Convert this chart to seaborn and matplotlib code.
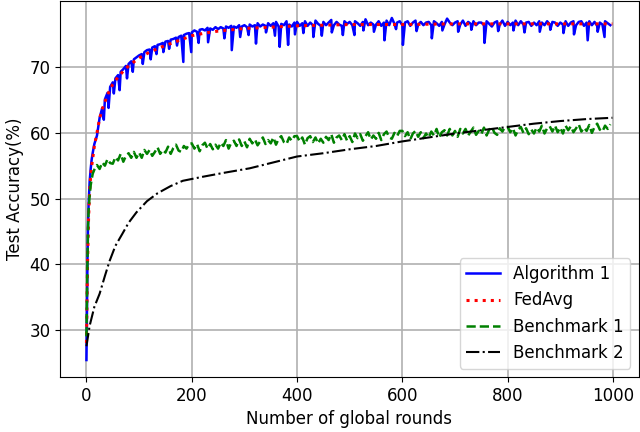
import matplotlib
matplotlib.use("Agg")
import matplotlib.pyplot as plt
import seaborn as sns

# rounds used for the noisy curves (dense at the start, then every 5 rounds)
rounds = [0, 1, 2, 3, 4, 6, 8, 10, 12, 15] + list(range(20, 1000, 5))

# Algorithm 1 (blue) on the regular rounds
algo1 = [25.4, 33.0, 41.0, 46.0, 49.0, 52.5, 54.5, 56.0, 57.0, 58.3,
         59.6, 62.3, 63.8, 65.1, 66.1, 67.0,
         67.7, 68.3, 68.8, 69.3, 69.7, 70.2, 70.5, 70.9, 71.2, 71.5,
         71.8, 72.0, 72.3, 72.6, 72.7, 73.0, 73.2, 73.4, 73.5, 73.7,
         73.9, 74.0, 74.2, 74.3, 74.5, 74.6, 74.8, 74.9, 75.1, 75.2,
         75.3, 75.6, 75.4, 75.7, 75.8, 75.6, 76.0, 75.9, 75.7, 76.1,
         75.8, 76.1, 75.9, 76.2, 76.0, 76.3, 76.2, 76.0, 76.4, 76.2,
         76.4, 76.1, 76.5, 76.2, 76.4, 76.7, 76.2, 76.5, 76.3, 76.7,
         76.3, 76.7, 76.9, 76.2, 76.6, 76.4, 77.0, 76.5, 76.2, 76.8,
         76.9, 76.3, 76.7, 77.0, 76.3, 76.8, 76.4, 77.1, 76.6, 76.3,
         76.9, 76.4, 76.8, 77.2, 76.4, 76.9, 76.5, 76.3, 77.0, 76.6,
         76.9, 76.4, 77.0, 76.7, 76.3, 76.9, 77.3, 76.4, 76.8, 76.5,
         76.5, 77.0, 76.3, 76.8, 77.1, 76.4, 77.5, 76.6, 76.8, 77.0,
         76.4, 76.8, 77.0, 76.3, 76.8, 77.1, 76.5, 76.9, 76.4, 76.8,
         76.9, 76.4, 77.0, 76.7, 76.3, 76.9, 76.5, 77.4, 76.8, 76.4,
         76.8, 77.0, 76.5, 77.1, 76.3, 76.9, 76.6, 77.0, 76.4, 76.8,
         76.8, 76.4, 77.0, 76.6, 76.2, 76.8, 77.0, 76.5, 77.1, 76.3,
         76.9, 76.4, 76.8, 77.1, 76.4, 77.0, 76.5, 76.8, 76.9, 76.3,
         76.8, 76.4, 77.0, 76.8, 76.4, 77.0, 76.5, 76.9, 76.8, 76.3,
         76.8, 76.5, 77.0, 76.3, 76.8, 77.0, 76.4, 76.9, 77.0, 76.3,
         76.8, 77.0, 76.4, 76.9, 76.3, 76.8, 76.5, 77.0, 76.7, 76.4]

# Algorithm 1 downward spikes (single rounds)
algo1_dip_rounds = [33, 42, 52, 63, 77, 88, 107, 122, 133, 146, 157, 172, 184,
                    199, 213, 231, 262, 276, 292, 308, 322, 341, 358, 367, 383,
                    396, 412, 431, 447, 466, 487, 509, 526, 546, 566, 588, 601,
                    627, 656, 676, 706, 731, 756, 782, 811, 832, 861, 881, 906,
                    926, 952, 971, 984]
algo1_dips = [62.0, 63.8, 66.0, 66.5, 68.3, 69.3, 70.5, 71.2, 72.0, 72.3, 72.8,
              73.3, 70.8, 72.3, 73.7, 73.8, 74.4, 72.6, 74.6, 74.9, 73.6, 75.3,
              74.8, 73.1, 73.4, 75.0, 75.2, 74.6, 74.8, 75.3, 74.9, 74.9, 75.6,
              75.4, 74.1, 75.8, 73.4, 75.5, 74.4, 75.6, 75.4, 75.7, 73.7, 75.5,
              75.6, 75.3, 75.4, 75.7, 75.2, 75.0, 74.1, 75.4, 74.6]

# Benchmark 1 (green, noisy band)
bench1 = [29.0, 35.0, 41.0, 45.5, 48.0, 50.5, 52.0, 53.0, 53.8, 54.4,
          55.1, 54.5, 55.5, 55.0, 56.0, 55.4,
          55.3, 56.3, 55.8, 56.8, 55.6, 56.5, 56.9, 56.2, 57.1, 56.2,
          57.0, 56.2, 57.4, 56.8, 57.4, 56.5, 57.1, 57.8, 56.8, 57.4,
          57.0, 57.9, 56.8, 57.7, 58.2, 57.3, 57.1, 58.0, 57.6, 58.3,
          58.4, 57.6, 58.3, 57.2, 58.1, 58.5, 57.6, 58.3, 57.5, 58.2,
          57.6, 58.5, 58.0, 58.9, 57.6, 58.5, 58.8, 58.0, 59.0, 58.0,
          58.7, 57.8, 59.1, 58.4, 59.0, 58.1, 58.7, 59.3, 58.3, 58.9,
          58.4, 59.3, 58.2, 59.1, 59.5, 58.6, 58.3, 59.3, 58.8, 59.5,
          59.5, 58.7, 59.3, 58.2, 59.2, 59.5, 58.6, 59.3, 58.4, 59.1,
          58.5, 59.4, 58.9, 59.8, 58.5, 59.3, 59.6, 58.9, 59.8, 58.8,
          59.5, 58.6, 59.9, 59.2, 59.8, 58.8, 59.5, 60.1, 59.0, 59.6,
          59.1, 60.0, 58.9, 59.8, 60.2, 59.3, 59.1, 60.0, 59.5, 60.3,
          60.3, 59.5, 60.1, 59.0, 59.9, 60.3, 59.4, 60.1, 59.2, 59.9,
          59.3, 60.2, 59.6, 60.6, 59.3, 60.1, 60.4, 59.6, 60.6, 59.6,
          60.3, 59.4, 60.6, 59.9, 60.6, 59.6, 60.2, 60.8, 59.7, 60.3,
          59.8, 60.8, 59.6, 60.5, 60.9, 60.0, 59.7, 60.7, 60.2, 60.9,
          60.9, 60.1, 60.7, 59.6, 60.5, 60.9, 60.0, 60.7, 59.8, 60.5,
          59.9, 60.8, 60.2, 61.1, 59.9, 60.7, 61.0, 60.2, 61.1, 60.1,
          60.8, 59.9, 61.1, 60.4, 61.0, 60.1, 60.7, 61.3, 60.2, 60.8,
          60.3, 61.2, 60.0, 60.9, 61.4, 60.5, 60.2, 61.1, 60.6, 61.3]

# FedAvg (red, smooth)
fedavg_rounds = [0, 2, 4, 6, 8, 10, 15, 20, 25, 30, 40, 50, 60, 70, 80, 100,
                 120, 140, 160, 180, 200, 225, 250, 300, 350, 400, 450, 500,
                 600, 700, 800, 900, 999]
fedavg = [28.0, 40.0, 47.0, 51.0, 53.5, 55.0, 58.0, 60.0, 62.2, 63.6, 65.8,
          67.4, 68.5, 69.4, 70.2, 71.4, 72.3, 73.0, 73.6, 74.2, 74.8, 75.2,
          75.5, 75.9, 76.1, 76.3, 76.4, 76.5, 76.5, 76.6, 76.6, 76.6, 76.6]

# Benchmark 2 (black, smooth)
bench2_rounds = [0, 6, 15, 25, 35, 44, 55, 68, 80, 95, 115, 135, 160, 183,
                 220, 260, 310, 350, 400, 450, 500, 550, 600, 650, 700, 750,
                 800, 850, 900, 950, 999]
bench2 = [27.5, 30.6, 33.5, 35.5, 38.2, 40.5, 42.8, 44.6, 46.3, 47.9, 49.6,
          50.8, 51.9, 52.7, 53.3, 53.9, 54.6, 55.4, 56.4, 56.9, 57.5, 58.0,
          58.7, 59.3, 59.9, 60.4, 60.9, 61.4, 61.8, 62.1, 62.3]

fig = plt.figure(figsize=(6.4, 4.32), dpi=100)
ax = fig.add_axes([0.094, 0.127, 0.904, 0.871])

# lineplot sorts by x, so the spikes fall in between the regular rounds
sns.lineplot(x=rounds + algo1_dip_rounds, y=algo1 + algo1_dips, ax=ax,
             color='b', linewidth=1.8, label='Algorithm 1')
sns.lineplot(x=fedavg_rounds, y=fedavg, ax=ax, color='r', linewidth=2.2,
             linestyle=':', label='FedAvg')
sns.lineplot(x=rounds, y=bench1, ax=ax, color='g', linewidth=1.8,
             linestyle='--', label='Benchmark 1')
sns.lineplot(x=bench2_rounds, y=bench2, ax=ax, color='k', linewidth=1.5,
             linestyle='-.', label='Benchmark 2')

ax.set_xticks([0, 200, 400, 600, 800, 1000])
ax.set_yticks([30, 40, 50, 60, 70])
ax.tick_params(labelsize=12)
ax.grid(True, color='#b0b0b0', linewidth=1.2)
ax.set_xlabel("Number of global rounds", fontsize=12)
ax.set_ylabel("Test Accuracy(%)", fontsize=12)
ax.legend(loc='lower right', fontsize=12)

fig.savefig("out.png", dpi=100)
